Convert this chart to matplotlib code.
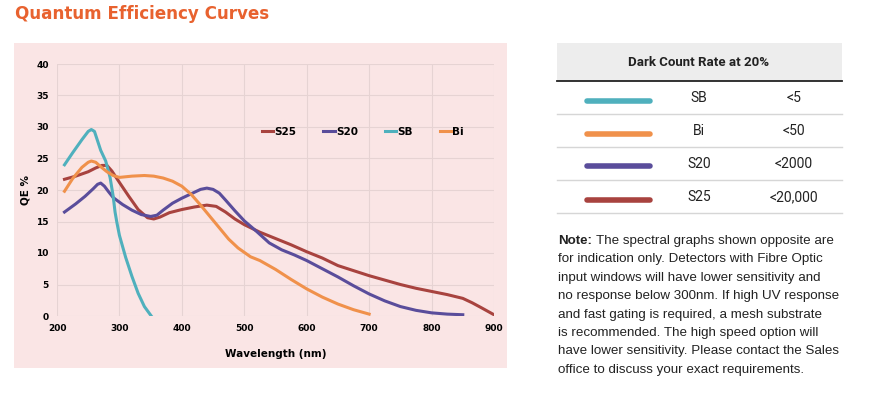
import matplotlib.pyplot as plt
from matplotlib.patches import Rectangle
from matplotlib.lines import Line2D

# QE curves (wavelength nm, QE %)
sb_x = [212, 225, 240, 250, 255, 260, 265, 270, 278, 285, 290, 293, 296, 300, 310, 320, 330, 340, 351]
sb_y = [24.0, 25.9, 28.0, 29.3, 29.6, 29.3, 27.8, 26.3, 24.6, 22.0, 19.0, 16.5, 14.8, 12.8, 9.3, 6.3, 3.6, 1.5, 0.0]

bi_x = [212, 225, 240, 250, 255, 262, 270, 280, 290, 300, 320, 340, 355, 370, 385, 400, 415, 430, 445, 460, 475, 490, 500, 510, 525, 550, 575, 600, 625, 650, 675, 700]
bi_y = [19.8, 21.8, 23.6, 24.4, 24.6, 24.4, 23.7, 22.9, 22.3, 22.0, 22.2, 22.3, 22.2, 21.9, 21.4, 20.6, 19.3, 17.6, 15.8, 14.0, 12.2, 10.8, 10.1, 9.4, 8.8, 7.4, 5.8, 4.3, 3.0, 1.9, 1.0, 0.3]

s20_x = [212, 230, 245, 258, 265, 270, 276, 282, 290, 305, 320, 335, 350, 360, 370, 385, 400, 415, 430, 440, 450, 460, 470, 485, 500, 520, 540, 560, 580, 600, 625, 650, 675, 700, 725, 750, 775, 800, 825, 850]
s20_y = [16.5, 17.8, 19.0, 20.2, 20.9, 21.1, 20.6, 19.8, 18.8, 17.7, 16.8, 16.1, 15.8, 16.0, 16.8, 17.9, 18.7, 19.4, 20.1, 20.3, 20.1, 19.5, 18.4, 16.7, 15.1, 13.4, 11.6, 10.5, 9.7, 8.8, 7.5, 6.2, 4.8, 3.5, 2.4, 1.5, 0.9, 0.5, 0.3, 0.2]

s25_x = [212, 230, 250, 262, 272, 280, 288, 300, 315, 330, 345, 355, 365, 380, 400, 420, 440, 455, 470, 485, 500, 525, 550, 575, 600, 625, 650, 675, 700, 725, 750, 775, 800, 825, 850, 865, 880, 900]
s25_y = [21.7, 22.2, 22.9, 23.5, 23.9, 23.9, 23.0, 21.2, 19.0, 16.9, 15.6, 15.4, 15.7, 16.4, 16.9, 17.3, 17.6, 17.4, 16.5, 15.4, 14.5, 13.3, 12.3, 11.3, 10.2, 9.2, 8.0, 7.2, 6.4, 5.7, 5.0, 4.4, 3.9, 3.4, 2.8, 2.1, 1.3, 0.2]

# dark count table
table_names = ['SB', 'Bi', 'S20', 'S25']
table_rates = ['<5', '<50', '<2000', '<20,000']

col_sb = '#4fb0bd'
col_bi = '#f0914b'
col_s20 = '#5a4d9b'
col_s25 = '#a8433f'
table_cols = [col_sb, col_bi, col_s20, col_s25]

note_lines = [
    'The spectral graphs shown opposite are',
    'for indication only. Detectors with Fibre Optic',
    'input windows will have lower sensitivity and',
    'no response below 300nm. If high UV response',
    'and fast gating is required, a mesh substrate',
    'is recommended. The high speed option will',
    'have lower sensitivity. Please contact the Sales',
    'office to discuss your exact requirements.',
]

W, H = 874, 397
fig = plt.figure(figsize=(W / 100, H / 100), dpi=100)
fig.patch.set_facecolor('white')

def fx(px):
    return px / W

def fy(py):
    return 1 - py / H

# title
fig.text(fx(15), fy(14), 'Quantum Efficiency Curves', color='#e8622f',
         fontsize=12.1, fontweight='bold', va='center', ha='left')

# pink panel behind the chart
panel_bg = '#fae5e5'
fig.patches.append(Rectangle((fx(14), fy(368)), fx(507) - fx(14), fy(43) - fy(368),
                             transform=fig.transFigure, facecolor=panel_bg,
                             edgecolor='none', zorder=0))

ax = fig.add_axes([fx(57), fy(316), fx(494) - fx(57), fy(64) - fy(316)])
ax.set_facecolor(panel_bg)
ax.set_zorder(1)

lw = 2.2
ax.plot(s25_x, s25_y, color=col_s25, lw=lw, label='S25', solid_joinstyle='round')
ax.plot(s20_x, s20_y, color=col_s20, lw=lw, label='S20', solid_joinstyle='round')
ax.plot(sb_x, sb_y, color=col_sb, lw=lw, label='SB', solid_joinstyle='round')
ax.plot(bi_x, bi_y, color=col_bi, lw=lw, label='Bi', solid_joinstyle='round')

ax.set_xlim(200, 900)
ax.set_ylim(0, 40)
ax.set_xticks(range(200, 901, 100))
ax.set_yticks(range(0, 41, 5))
ax.grid(True, color='#e6d3d3', lw=0.8)
ax.set_axisbelow(True)
for s in ax.spines.values():
    s.set_visible(False)
ax.tick_params(length=0, labelsize=6.5, pad=6)
for lab in ax.get_xticklabels() + ax.get_yticklabels():
    lab.set_fontweight('bold')
ax.set_xlabel('Wavelength (nm)', fontsize=7.5, fontweight='bold', labelpad=11)
ax.set_ylabel('QE %', fontsize=7.5, fontweight='bold', labelpad=4)

leg = ax.legend(loc='center', bbox_to_anchor=(0.7, 0.73), ncol=4, frameon=False,
                handlelength=1.1, handletextpad=0.1, columnspacing=2.6,
                prop={'size': 7.5, 'weight': 'bold'})

# dark count table
tx0, tx1 = 557, 842
fig.patches.append(Rectangle((fx(tx0), fy(81)), fx(tx1) - fx(tx0), fy(43) - fy(81),
                             transform=fig.transFigure, facecolor='#ededed',
                             edgecolor='none', zorder=0))
fig.text(fx(699), fy(63), 'Dark Count Rate at 20%', fontsize=9.5, fontweight='bold',
         color='#222222', ha='center', va='center', family='Roboto')
fig.add_artist(Line2D([fx(tx0), fx(tx1)], [fy(81), fy(81)], color='#222222', lw=1.3))

row_h = 33
for i, (name, rate, c) in enumerate(zip(table_names, table_rates, table_cols)):
    yc = 81 + row_h * i + row_h / 2
    fig.add_artist(Line2D([fx(587), fx(650)], [fy(yc + 3), fy(yc + 3)], color=c,
                          lw=4, solid_capstyle='round'))
    fig.text(fx(699), fy(yc + 0.5), name, fontsize=10, color='#222222',
             ha='center', va='center', family='Roboto')
    fig.text(fx(794), fy(yc + 0.5), rate, fontsize=10, color='#222222',
             ha='center', va='center', family='Roboto')
    ybot = 81 + row_h * (i + 1)
    fig.add_artist(Line2D([fx(tx0), fx(tx1)], [fy(ybot), fy(ybot)], color='#d6d6d6', lw=1))

# note paragraph
for i, line in enumerate(note_lines):
    y = 241 + 18.4 * i
    if i == 0:
        fig.text(fx(558), fy(y), 'Note:', fontsize=9.6, fontweight='bold',
                 color='#222222', ha='left', va='center', family='Liberation Sans')
        fig.text(fx(596), fy(y), line, fontsize=9.6, color='#222222',
                 ha='left', va='center', family='Liberation Sans')
    else:
        fig.text(fx(558), fy(y), line, fontsize=9.6, color='#222222',
                 ha='left', va='center', family='Liberation Sans')

fig.savefig('out.png', dpi=100)
